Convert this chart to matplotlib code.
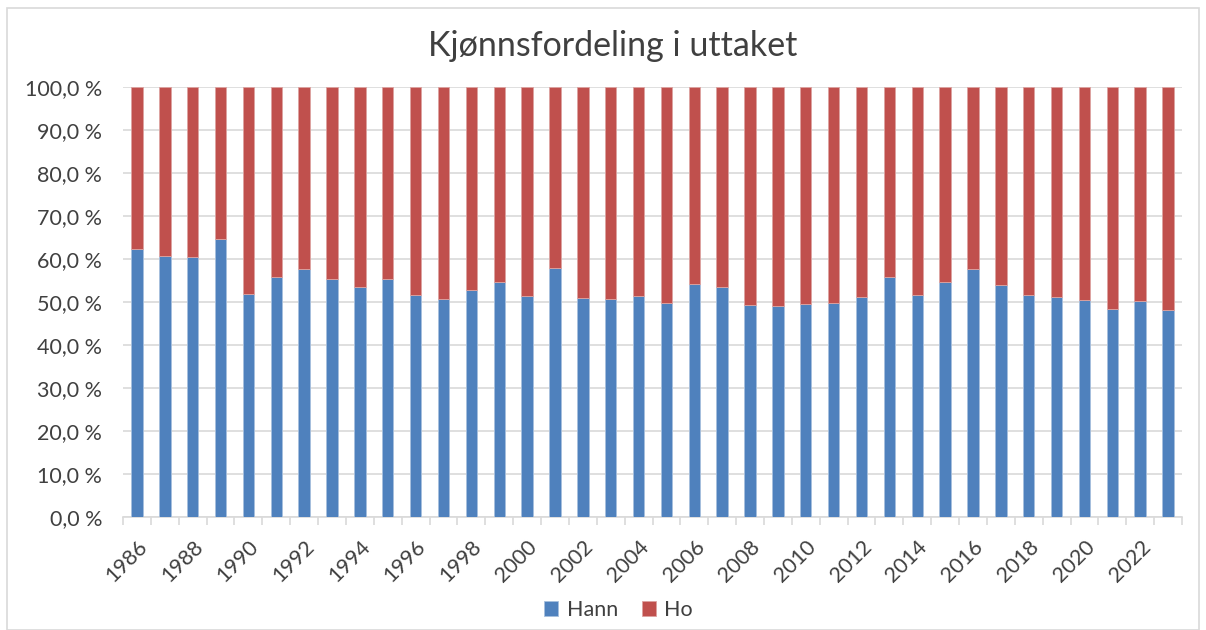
import numpy as np
import matplotlib.pyplot as plt
from matplotlib.patches import Rectangle
from matplotlib.ticker import FuncFormatter

plt.rcParams['font.family'] = ['Lato', 'DejaVu Sans']

years = list(range(1986, 2024))
hann = [62.3, 60.6, 60.5, 64.6, 51.8, 55.7, 57.7, 55.3, 53.6, 55.3,
        51.6, 50.6, 52.9, 54.6, 51.3, 58.0, 50.9, 50.8, 51.5, 49.7,
        54.3, 53.6, 49.2, 49.1, 49.5, 49.7, 51.1, 55.8, 51.6, 54.7,
        57.7, 53.9, 51.6, 51.2, 50.5, 48.3, 50.2, 48.1]
ho = [100 - h for h in hann]

blue = '#4F81BD'
red = '#C0504D'
grid = '#D9D9D9'
txt = '#404040'

fig = plt.figure(figsize=(12.06, 6.30), dpi=100)
ax = fig.add_axes([123/1206, 1 - 517/630, (1182-123)/1206, (517-87)/630])

x = np.arange(len(years))
ax.bar(x, hann, width=0.41, color=blue, edgecolor='#A7C0DE', linewidth=0.6, label='Hann', zorder=3)
ax.bar(x, ho, width=0.41, bottom=hann, color=red, edgecolor='#DDA3A1', linewidth=0.6, label='Ho', zorder=3)

ax.set_xlim(-0.5, len(years) - 0.5)
ax.set_ylim(0, 100)
ax.set_yticks(np.arange(0, 101, 10))
ax.yaxis.set_major_formatter(FuncFormatter(lambda v, p: f"{v:.1f} %".replace('.', ',')))
ax.grid(axis='y', color=grid, linewidth=1.2, zorder=0)
ax.tick_params(axis='y', length=0, labelsize=15.5, labelcolor=txt, pad=15)

ax.set_xticks(x[::2])
ax.set_xticklabels([str(y) for y in years[::2]], rotation=45, ha='right',
                   rotation_mode='anchor', fontsize=15.5, color=txt)
ax.set_xticks(np.arange(-0.5, len(years), 1), minor=True)
ax.tick_params(axis='x', which='major', length=0, pad=14)
ax.tick_params(axis='x', which='minor', length=6, color=grid, width=1.2, direction='out')

for s in ['top', 'right', 'left']:
    ax.spines[s].set_visible(False)
ax.spines['bottom'].set_color(grid)
ax.spines['bottom'].set_linewidth(1.2)

fig.text(0.508, 1 - 46/630, 'Kjønnsfordeling i uttaket', ha='center', va='center',
         fontsize=24.5, color=txt)

fig.legend(loc='center', bbox_to_anchor=(0.513, 1 - 610/630), ncol=2, frameon=False,
           fontsize=15.5, handlelength=0.65, handleheight=0.65, columnspacing=1.1,
           handletextpad=0.4, labelcolor=txt)

fig.patches.append(Rectangle((7/1206, 0), 1192/1206, 1 - 8/630, transform=fig.transFigure,
                             fill=False, edgecolor=grid, linewidth=1.2))

fig.savefig('out.png', dpi=100)
